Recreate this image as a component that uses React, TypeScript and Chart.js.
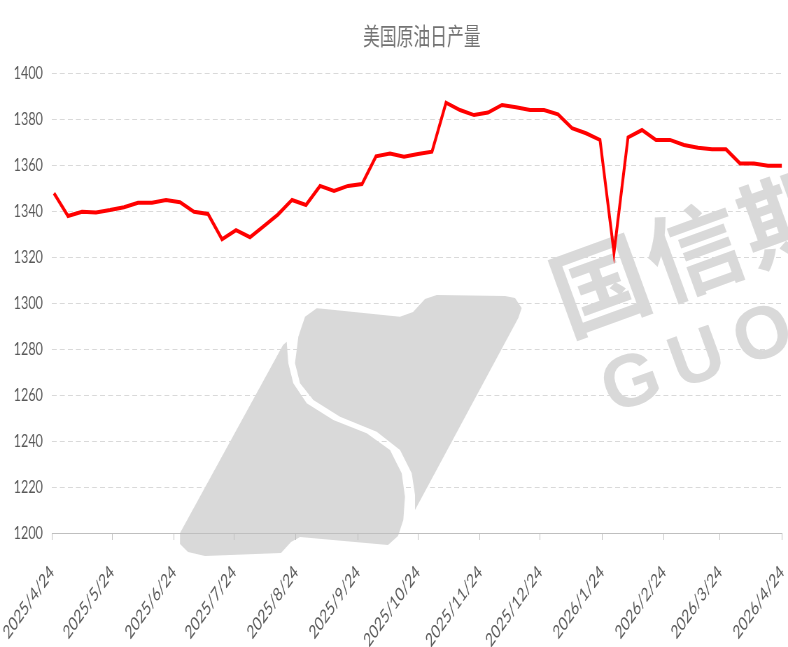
import React, { useEffect, useRef } from "react";
import { Chart, registerables } from "chart.js";

Chart.register(...registerables);

// ---------------- data ----------------
const TITLE = "美国原油日产量";
const AXIS_START = "2025/4/24";
const FIRST_POINT = "2025/4/25";
const WEEK_DAYS = 7;
const TICK_LABELS = [
  "2025/4/24", "2025/5/24", "2025/6/24", "2025/7/24", "2025/8/24", "2025/9/24",
  "2025/10/24", "2025/11/24", "2025/12/24", "2026/1/24", "2026/2/24", "2026/3/24", "2026/4/24",
];
// weekly US crude output (10k bbl/day), one value per week from FIRST_POINT
const PRODUCTION = [
  1347.7, 1337.8, 1339.7, 1339.4, 1340.4, 1341.6, 1343.6, 1343.6, 1344.8, 1343.8,
  1339.7, 1338.7, 1327.7, 1331.7, 1328.6, 1333.5, 1338.5, 1344.8, 1342.6, 1350.9,
  1348.7, 1350.9, 1351.7, 1363.8, 1365.0, 1363.6, 1364.8, 1365.8, 1387.1, 1383.9,
  1381.7, 1382.8, 1386.1, 1385.1, 1383.9, 1383.9, 1382.0, 1376.0, 1373.8, 1370.9,
  1321.9, 1372.0, 1375.2, 1370.9, 1370.9, 1368.7, 1367.5, 1366.8, 1366.8, 1360.7,
  1360.7, 1359.7, 1359.7,
];
const Y_MIN = 1200;
const Y_MAX = 1400;
const Y_STEP = 20;
const WATERMARK_CN = "国信期货";
const WATERMARK_EN = "GUOSEN";

// ---------------- layout ----------------
const OUT_W = 788;
const OUT_H = 647;
const CW = 1126; // drawing width before the horizontal squeeze
const SQ = OUT_W / CW;

const dayNum = (s: string) => {
  const [y, m, d] = s.split("/").map(Number);
  return Math.round(Date.UTC(y, m - 1, d) / 86400000);
};
const ORIGIN = dayNum(AXIS_START);
const TICK_DAYS = TICK_LABELS.map((t) => dayNum(t) - ORIGIN);
const FIRST_X = dayNum(FIRST_POINT) - ORIGIN;
const POINTS = PRODUCTION.map((v, i) => ({ x: FIRST_X + i * WEEK_DAYS, y: v }));

const LOGO_LEFT: [number, number][] = [
  [286.7, 341.7], [288.3, 363.3], [293.3, 383.3], [306.7, 403.3], [333.3, 420],
  [366.7, 433.3], [390, 450], [401.7, 473.3], [405, 496.7], [403.3, 520],
  [398, 536], [388, 545], [300, 537], [291, 542], [281, 553], [205, 556],
  [188, 552], [180, 544], [180, 533], [283, 345],
];
const LOGO_RIGHT: [number, number][] = [
  [316.7, 308.3], [305, 316.7], [298.3, 336.7], [295, 363.3], [300, 383.3],
  [313.3, 400], [340, 416.7], [376.7, 431.7], [400, 450], [411.7, 473.3],
  [415, 495], [415, 510], [518.3, 318], [521.7, 308], [515, 298], [505, 296],
  [436.7, 295], [425, 299], [413, 312], [400, 316.7], [325, 309],
];

const watermark = {
  id: "watermark",
  beforeDraw(chart: any) {
    const ctx = chart.ctx as CanvasRenderingContext2D;
    ctx.save();
    ctx.scale(1 / SQ, 1);
    ctx.fillStyle = "#d9d9d9";
    for (const poly of [LOGO_LEFT, LOGO_RIGHT]) {
      ctx.beginPath();
      poly.forEach(([x, y], i) => (i ? ctx.lineTo(x, y) : ctx.moveTo(x, y)));
      ctx.closePath();
      ctx.fill();
    }
    const ang = (-20 * Math.PI) / 180;
    const drawRow = (text: string, font: string, cx: number, cy: number, step: number) => {
      ctx.font = font;
      ctx.textAlign = "center";
      ctx.textBaseline = "middle";
      Array.from(text).forEach((ch, i) => {
        ctx.save();
        ctx.translate(cx + Math.cos(ang) * step * i, cy + Math.sin(ang) * step * i);
        ctx.rotate(ang);
        ctx.fillText(ch, 0, 0);
        ctx.restore();
      });
    };
    drawRow(WATERMARK_CN, 'bold 96px "Noto Sans CJK SC"', 600, 285, 100);
    drawRow(WATERMARK_EN, 'bold 74px "Liberation Sans"', 632, 385, 70);
    ctx.restore();
  },
};

const titlePlugin = {
  id: "titleText",
  afterDraw(chart: any) {
    const ctx = chart.ctx as CanvasRenderingContext2D;
    const a = chart.chartArea;
    ctx.save();
    ctx.font = '24px "Noto Sans CJK SC"';
    ctx.fillStyle = "#737373";
    ctx.textAlign = "center";
    ctx.textBaseline = "middle";
    ctx.fillText(TITLE, (a.left + a.right) / 2 + 7, 36);
    ctx.restore();
  },
};

export default function App() {
  const ref = useRef<HTMLCanvasElement>(null);

  useEffect(() => {
    const tickFont = { family: "Lato", size: 18 };
    const chart = new Chart(ref.current as HTMLCanvasElement, {
      type: "line",
      data: {
        datasets: [
          {
            data: POINTS,
            borderColor: "#ff0000",
            borderWidth: 4,
            pointRadius: 0,
            tension: 0,
            fill: false,
          },
        ],
      },
      options: {
        animation: false,
        responsive: false,
        devicePixelRatio: 1,
        layout: { padding: { top: 73, right: 8.6, bottom: 0, left: 0 } },
        plugins: { legend: { display: false }, tooltip: { enabled: false }, title: { display: false } },
        scales: {
          x: {
            type: "linear",
            min: 0,
            max: TICK_DAYS[TICK_DAYS.length - 1],
            afterBuildTicks: (scale: any) => {
              scale.ticks = TICK_DAYS.map((v) => ({ value: v }));
            },
            afterFit: (scale: any) => {
              scale.height = OUT_H - 533;
              scale.paddingLeft = 0;
              scale.paddingRight = 0;
            },
            ticks: {
              autoSkip: false,
              minRotation: 45,
              maxRotation: 45,
              padding: 21,
              color: "#595959",
              font: { family: "Lato", size: 19 },
              callback: (v: any) => TICK_LABELS[TICK_DAYS.indexOf(Number(v))] ?? "",
            },
            grid: { display: true, drawOnChartArea: false, drawTicks: true, tickLength: 7, color: "#bfbfbf" },
            border: { display: true, color: "#bfbfbf", width: 1 },
          },
          y: {
            min: Y_MIN,
            max: Y_MAX,
            afterFit: (scale: any) => {
              scale.width = 74.3;
            },
            ticks: {
              stepSize: Y_STEP,
              padding: 13,
              color: "#595959",
              font: tickFont,
              callback: (v: any) => String(v),
            },
            grid: { color: "#d9d9d9", lineWidth: 1, drawTicks: false },
            border: { display: false, dash: [7, 4.5] },
          },
        },
      },
      plugins: [watermark, titlePlugin],
    } as any);
    return () => chart.destroy();
  }, []);

  return (
    <div
      style={{
        position: "fixed",
        left: 0,
        top: 0,
        width: OUT_W,
        height: OUT_H,
        overflow: "hidden",
        background: "#ffffff",
      }}
    >
      <div style={{ width: CW, height: OUT_H, transform: `scaleX(${SQ})`, transformOrigin: "0 0" }}>
        <canvas ref={ref} width={CW} height={OUT_H} style={{ display: "block" }} />
      </div>
    </div>
  );
}
